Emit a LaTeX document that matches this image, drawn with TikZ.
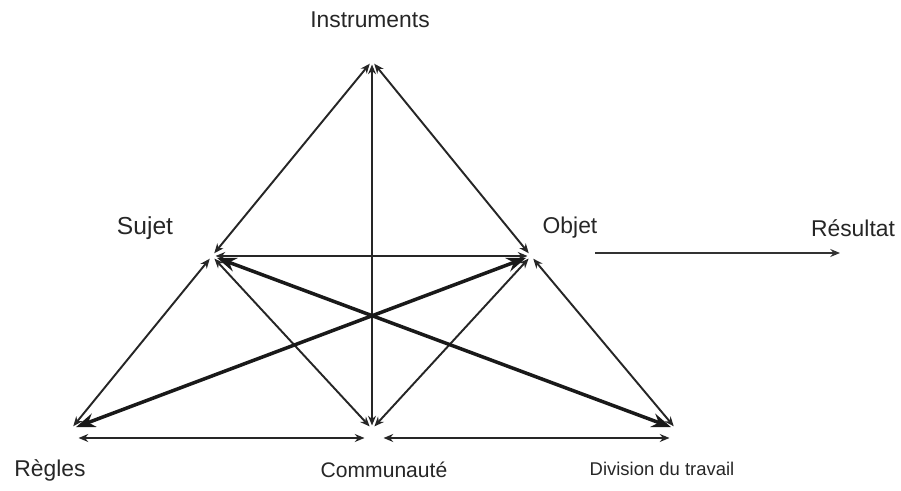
\documentclass[tikz,border=0pt]{standalone}
\usepackage{fontspec}
\setmainfont{Liberation Sans}
\usetikzlibrary{arrows.meta,positioning}

\tikzset{
    lbl/.style={inner sep=0pt,font=\fontsize{13}{15}\selectfont,text=black!85},
    link/.style={line width=1.1pt,black!85,{Stealth[length=5.5pt,width=4.5pt]}-{Stealth[length=5.5pt,width=4.5pt]},shorten <=2pt,shorten >=2pt},
    biglink/.style={line width=2pt,black!90,{Stealth[length=11pt,width=8pt]}-{Stealth[length=11pt,width=8pt]},shorten <=3pt,shorten >=3pt}
}

\begin{document}
\begin{tikzpicture}
    \useasboundingbox (0,0) rectangle (18.02,9.82);

    % vertices of the triangle
    \coordinate (instr) at (7.44,8.60);
    \coordinate (sujet) at (4.24,4.70);
    \coordinate (objet) at (10.62,4.70);
    \coordinate (regles) at (1.42,1.24);
    \coordinate (commu) at (7.44,1.24);
    \coordinate (divis) at (13.52,1.24);

    % ends of the bottom lines
    \coordinate (reglesb) at (1.50,1.06);
    \coordinate (commul) at (7.36,1.06);
    \coordinate (commur) at (7.60,1.06);
    \coordinate (divisb) at (13.46,1.06);

    % result arrow
    \coordinate (resa) at (11.90,4.76);
    \coordinate (resb) at (16.80,4.76);

    % labels
    \node[lbl] (linstr) at (7.40,9.42) {Instruments};
    \node[lbl,font=\fontsize{14}{16}\selectfont] (lsujet) at (2.90,5.26) {Sujet};
    \node[lbl] (lobjet) at (11.40,5.26) {Objet};
    \node[lbl] (lres) at (17.06,5.26) {Résultat};
    \node[lbl] (lregles) at (1.00,0.42) {Règles};
    \node[lbl,font=\fontsize{12}{14}\selectfont] (lcommu) at (7.68,0.42) {Communauté};
    \node[lbl,font=\fontsize{10.5}{12}\selectfont] (ldivis) at (13.24,0.44) {Division du travail};

    % outer edges
    \draw[link] (instr) -- (sujet);
    \draw[link] (instr) -- (objet);
    \draw[link] (instr) -- (commu);
    \draw[link] (sujet) -- (objet);
    \draw[link] (sujet) -- (regles);
    \draw[link] (objet) -- (divis);

    % inner edges
    \draw[link] (sujet) -- (commu);
    \draw[link] (objet) -- (commu);
    \draw[biglink] (sujet) -- (divis);
    \draw[biglink] (objet) -- (regles);

    % bottom
    \draw[link] (reglesb) -- (commul);
    \draw[link] (commur) -- (divisb);

    \draw[line width=1.2pt,black!80,-{Stealth[length=5.5pt,width=4.5pt]}] (resa) -- (resb);
\end{tikzpicture}
\end{document}
